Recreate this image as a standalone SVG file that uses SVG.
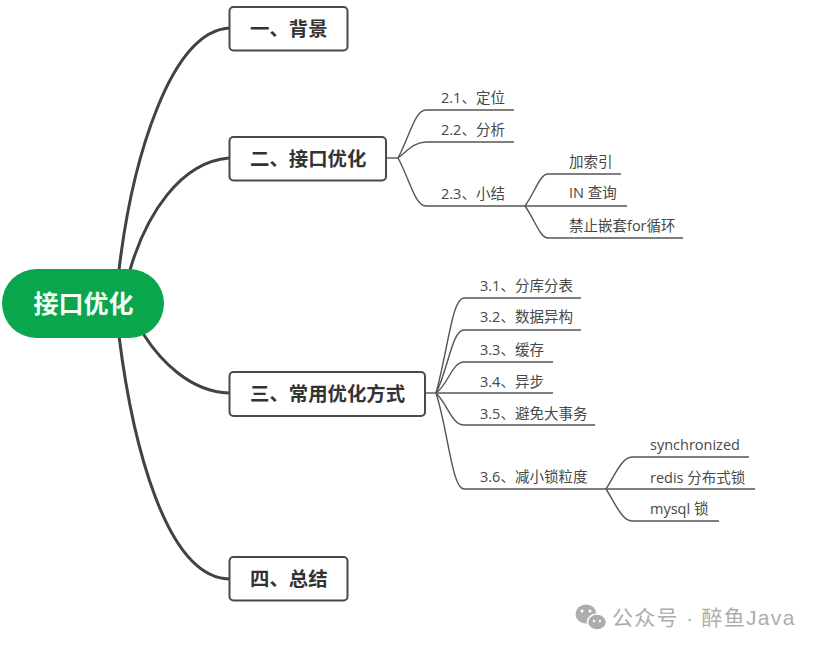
<svg xmlns="http://www.w3.org/2000/svg" width="825" height="650" viewBox="0 0 825 650">
<style>
text{font-family:"Liberation Sans","Noto Sans CJK SC",sans-serif;white-space:pre}
.main{fill:none;stroke:#424242;stroke-width:3;stroke-linecap:round}
.sub{fill:none;stroke:#555;stroke-width:1.4}
.box{fill:#fff;stroke:#4a4a4a;stroke-width:2}
.t1{font-size:19.400px;font-weight:700;fill:#333}
.t2{font-size:14.500px;fill:#484848;font-family:"Open Sans","Noto Sans CJK SC",sans-serif}
.wm{font-size:21px;fill:#adadad;letter-spacing:1.300px}
</style>
<rect width="825" height="650" fill="#fff"/>
<g id="connectors">
<path class="main" d="M119 270C132 160 170 32 229 28"/>
<path class="main" d="M130 270C146 215 180 162 229 158"/>
<path class="main" d="M119 336C132 440 165 577 229 579"/>
<path class="main" d="M144 335C160 360 190 392 229 393"/>
<path class="sub" d="M386 158H398"/>
<path class="sub" d="M398 158C410 135 415 110 426 110H514"/>
<path class="sub" d="M398 158C408 150 415 142 426 142H514"/>
<path class="sub" d="M398 158C410 180 415 206 426 206H525"/>
<path class="sub" d="M525 206C535 192 540 174 548 174H621"/>
<path class="sub" d="M525 206H627"/>
<path class="sub" d="M525 206C535 220 540 238 548 238H683"/>
<path class="sub" d="M425 393H436"/>
<path class="sub" d="M436 393C448 350 452 298 464 298H581"/>
<path class="sub" d="M436 393C448 370 452 330 464 330H581"/>
<path class="sub" d="M436 393C448 385 452 362 464 362H553"/>
<path class="sub" d="M436 393H553"/>
<path class="sub" d="M436 393C448 405 452 425 464 425H595"/>
<path class="sub" d="M436 393C448 430 452 489 464 489H606"/>
<path class="sub" d="M606 489C615 475 622 457 632 457H749"/>
<path class="sub" d="M606 489H755"/>
<path class="sub" d="M606 489C615 503 622 521 632 521H719"/>
</g>
<g id="root"><rect x="2" y="269" width="162" height="69" rx="34.500" fill="#0aa64e"/><text x="83.500" y="313" text-anchor="middle" font-size="25" font-weight="700" fill="#f4fff6">接口优化</text></g>
<g id="n1"><rect class="box" x="229.500" y="7" width="118" height="43.500" rx="4"/><text class="t1" x="250" y="36">一、背景</text></g>
<g id="n2"><rect class="box" x="229.500" y="137" width="156.500" height="43.500" rx="4"/><text class="t1" x="250" y="166">二、接口优化</text></g>
<g id="n3"><rect class="box" x="229.500" y="372" width="195.500" height="44" rx="4"/><text class="t1" x="250" y="401">三、常用优化方式</text></g>
<g id="n4"><rect class="box" x="229.500" y="557" width="118" height="43.500" rx="4"/><text class="t1" x="250" y="586">四、总结</text></g>
<g id="n21"><text class="t2" x="441" y="103">2.1、定位</text></g>
<g id="n22"><text class="t2" x="441" y="135">2.2、分析</text></g>
<g id="n23"><text class="t2" x="441" y="199">2.3、小结</text></g>
<g id="n231"><text class="t2" x="569" y="167">加索引</text></g>
<g id="n232"><text class="t2" x="569" y="198">IN 查询</text></g>
<g id="n233"><text class="t2" x="569" y="231">禁止嵌套for循环</text></g>
<g id="n31"><text class="t2" x="480" y="291">3.1、分库分表</text></g>
<g id="n32"><text class="t2" x="480" y="322">3.2、数据异构</text></g>
<g id="n33"><text class="t2" x="480" y="355">3.3、缓存</text></g>
<g id="n34"><text class="t2" x="480" y="387">3.4、异步</text></g>
<g id="n35"><text class="t2" x="480" y="419">3.5、避免大事务</text></g>
<g id="n36"><text class="t2" x="480" y="482">3.6、减小锁粒度</text></g>
<g id="n361"><text class="t2" x="650" y="450">synchronized</text></g>
<g id="n362"><text class="t2" x="650" y="483">redis 分布式锁</text></g>
<g id="n363"><text class="t2" x="650" y="514">mysql 锁</text></g>
<g id="watermark">
<ellipse cx="586" cy="614" rx="10.500" ry="9.500" fill="#adadad"/>
<ellipse cx="597" cy="622" rx="9.500" ry="8" fill="#adadad" stroke="#fff" stroke-width="1.500"/>
<circle cx="582" cy="611" r="1.500" fill="#fff"/><circle cx="590" cy="611" r="1.500" fill="#fff"/>
<circle cx="594" cy="621" r="1.200" fill="#fff"/><circle cx="600" cy="621" r="1.200" fill="#fff"/>
<text class="wm" x="612" y="625">公众号 · 醉鱼Java</text>
</g>
</svg>
